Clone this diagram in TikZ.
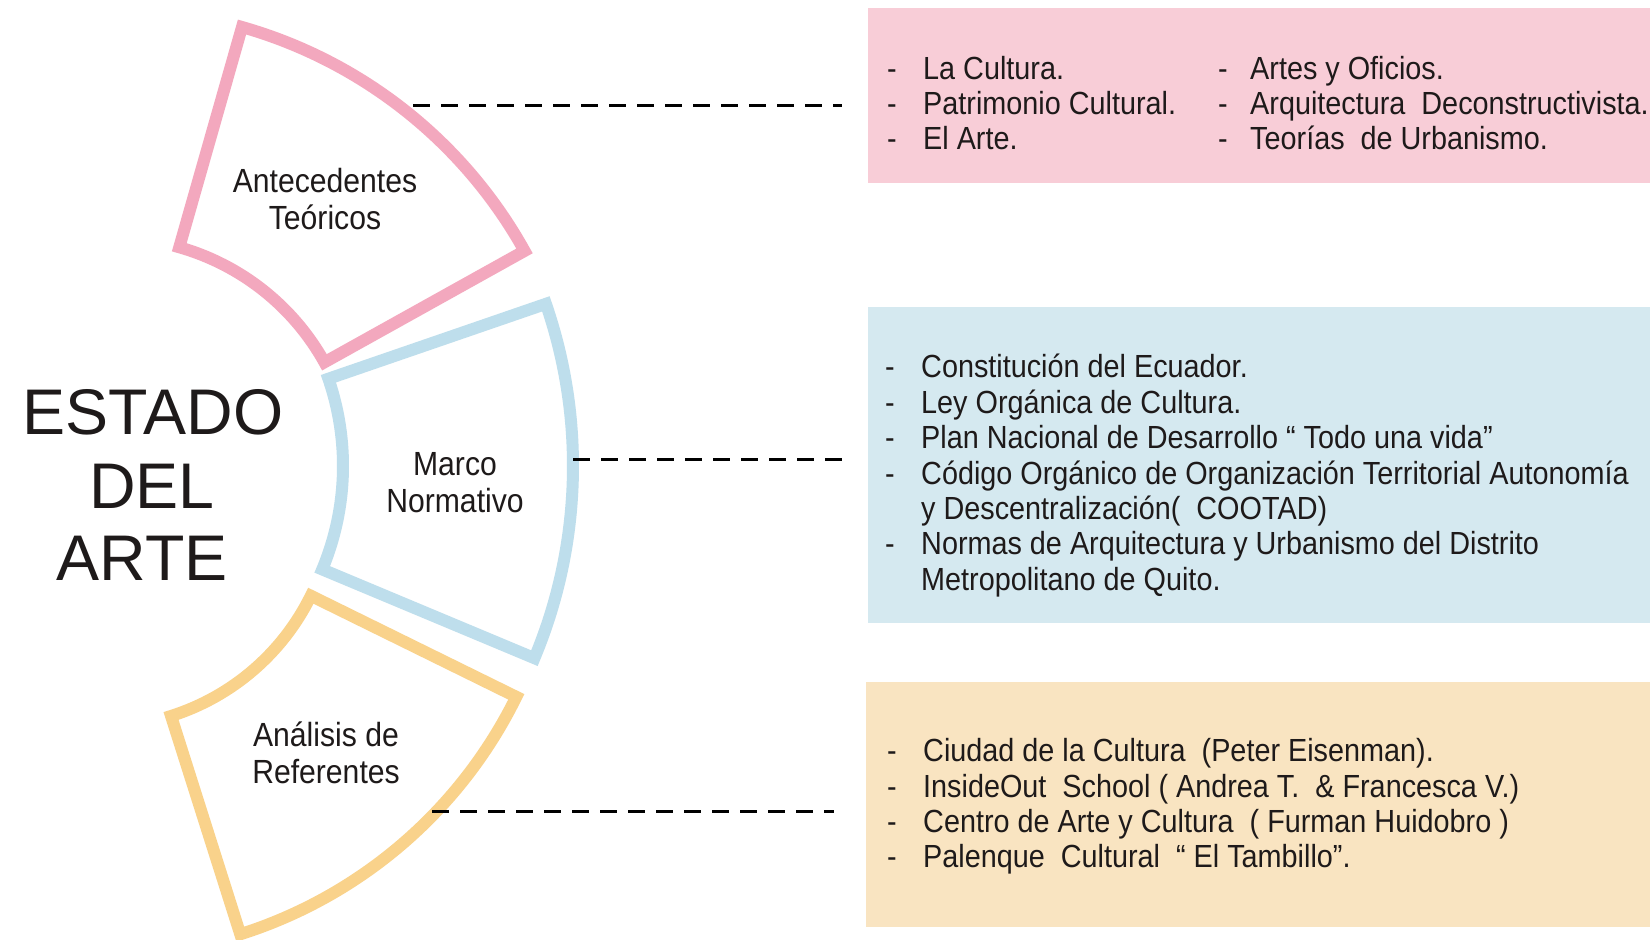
\documentclass[tikz,border=0pt]{standalone}
\usepackage{fontspec}
\setmainfont{Liberation Sans}
\newfontfamily\nf[FakeStretch=0.9]{Liberation Sans}
\usetikzlibrary{calc}
\definecolor{pinkS}{HTML}{F3A8BE}
\definecolor{pinkF}{HTML}{F8CDD7}
\definecolor{blueS}{HTML}{BEDEEC}
\definecolor{blueF}{HTML}{D5E9F0}
\definecolor{orS}{HTML}{F9D28B}
\definecolor{orF}{HTML}{F9E4C1}
\definecolor{txt}{HTML}{1E1A1A}
\begin{document}
\begin{tikzpicture}[x=1pt,y=1pt,
  sector/.style={line width=12pt, line join=miter, fill=white},
  lbl/.style={font=\nf\fontsize{33.5}{37}\selectfont, align=center, text=txt, inner sep=0},
  item/.style={font=\nf\fontsize{32}{35.3}\selectfont, text=txt, inner sep=0, anchor=base west},
  big/.style={font=\fontsize{64.5}{73}\selectfont, text=txt, inner sep=0, anchor=base},
  panel/.style={inner sep=0, draw=none, anchor=north west},
  link/.style={line width=3pt, dash pattern=on 17pt off 11pt}]
\useasboundingbox (0,0) rectangle (1650,940);
\fill[white] (0,0) rectangle (1650,940);

% panels
\node[panel, fill=pinkF, minimum width=782pt, minimum height=175pt] (pinkbox) at (868,932) {};
\node[panel, fill=blueF, minimum width=782pt, minimum height=316pt] (bluebox) at (868,633) {};
\node[panel, fill=orF, minimum width=784pt, minimum height=245pt] (orbox) at (866,258) {};

% sectors
\draw[sector, draw=pinkS] ([shift={(29.1:242)}]113,460) arc[start angle=29.1, end angle=74.1, radius=242]
  -- ([shift={(74.1:471)}]113,460) arc[start angle=74.1, end angle=29.1, radius=471] -- cycle;
\draw[sector, draw=blueS] ([shift={(-22.7:268)}]75,474) arc[start angle=-22.7, end angle=19, radius=268]
  -- ([shift={(19:498)}]75,474) arc[start angle=19, end angle=-22.7, radius=498] -- cycle;
\draw[sector, draw=orS] ([shift={(-72.4:235)}]100,448) arc[start angle=-72.4, end angle=-26.2, radius=235]
  -- ([shift={(-26.2:464)}]100,448) arc[start angle=-26.2, end angle=-72.4, radius=464] -- cycle;

% sector labels
\node[lbl] (ant) at (325,740.5) {Antecedentes\\Teóricos};
\node[lbl] (mar) at (455,457.5) {Marco\\Normativo};
\node[lbl] (ana) at (326,187.5) {Análisis de\\Referentes};

% title
\node[big] (t1) at (153,505) {ESTADO};
\node[big] (t2) at (152,431) {DEL};
\node[big] (t3) at (142,359) {ARTE};

% dashed connectors
\coordinate (pA) at (413,834); \coordinate (pB) at (842,834);
\coordinate (bA) at (573,480); \coordinate (bB) at (842,480);
\coordinate (oA) at (432,128); \coordinate (oB) at (834,128);
\draw[link] (pA) -- (pB);
\draw[link] (bA) -- (bB);
\draw[link] (oA) -- (oB);

% pink lists
\foreach \t [count=\i] in {{La Cultura.},{Patrimonio Cultural.},{El Arte.}}
  \node[item] (pl\i) at (887,{860.5-(\i-1)*34.8}) {\makebox[36pt][l]{-}\t};
\foreach \t [count=\i] in {{Artes y Oficios.},{Arquitectura\ \ Deconstructivista.},{Teorías\ \ de Urbanismo.}}
  \node[item] (pr\i) at (1218,{860.5-(\i-1)*34.8}) {\makebox[32pt][l]{-}\t};

% blue list
\foreach \d/\t [count=\i] in {-/{Constitución del Ecuador.},-/{Ley Orgánica de Cultura.},-/{Plan Nacional de Desarrollo “ Todo una vida”},-/{Código Orgánico de Organización Territorial Autonomía},{}/{y Descentralización(\ \ COOTAD)},-/{Normas de Arquitectura y Urbanismo del Distrito},{}/{Metropolitano de Quito.}}
  \node[item] (bl\i) at (885,{562-(\i-1)*35.4}) {\makebox[36pt][l]{\d}\t};

% orange list
\foreach \t [count=\i] in {{Ciudad de la Cultura\ \ (Peter Eisenman).},{InsideOut\ \ School ( Andrea T.\ \ \& Francesca V.)},{Centro de Arte y Cultura\ \ ( Furman Huidobro )},{Palenque\ \ Cultural\ \ “ El Tambillo”.}}
  \node[item] (ol\i) at (887,{178-(\i-1)*35.3}) {\makebox[36pt][l]{-}\t};
\end{tikzpicture}
\end{document}
